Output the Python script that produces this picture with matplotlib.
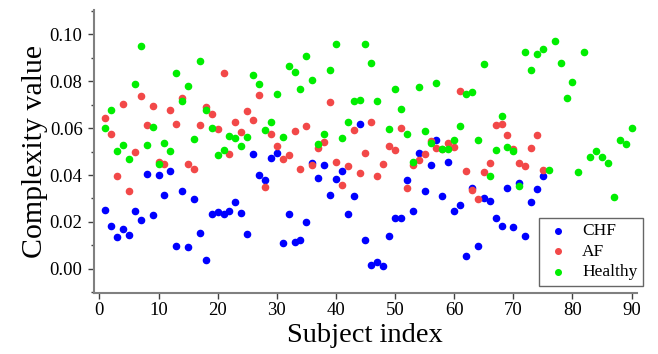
import numpy as np
import matplotlib
matplotlib.use("Agg")
import matplotlib.pyplot as plt
from matplotlib.ticker import MultipleLocator

plt.rcParams['font.family'] = ['Liberation Serif', 'DejaVu Serif']

chf = [0.0249, 0.0181, 0.0135, 0.0172, 0.0144, 0.0246, 0.0209, 0.0404, 0.0230, 0.0401,
       0.0316, 0.0417, 0.0097, 0.0331, 0.0092, 0.0297, 0.0152, 0.0036, 0.0232, 0.0243,
       0.0235, 0.0248, 0.0283, 0.0236, 0.0149, 0.0489, 0.0400, 0.0378, 0.0474, 0.0492,
       0.0112, 0.0232, 0.0115, 0.0121, 0.0201, 0.0450, 0.0387, 0.0442, 0.0314, 0.0383,
       0.0418, 0.0232, 0.0310, 0.0617, 0.0122, 0.0016, 0.0030, 0.0011, 0.0142, 0.0216,
       0.0216, 0.0377, 0.0248, 0.0492, 0.0331, 0.0442, 0.0548, 0.0310, 0.0454, 0.0246,
       0.0273, 0.0054, 0.0346, 0.0098, 0.0300, 0.0290, 0.0215, 0.0182, 0.0346, 0.0179,
       0.0364, 0.0142, 0.0284, 0.0341, 0.0395]

af = [0.0643, 0.0575, 0.0398, 0.0704, 0.0331, 0.0499, 0.0737, 0.0613, 0.0696, 0.0454,
      0.0445, 0.0677, 0.0616, 0.0727, 0.0445, 0.0427, 0.0615, 0.0691, 0.0660, 0.0595,
      0.0835, 0.0491, 0.0627, 0.0582, 0.0674, 0.0633, 0.0740, 0.0349, 0.0575, 0.0522,
      0.0469, 0.0486, 0.0587, 0.0424, 0.0609, 0.0442, 0.0516, 0.0539, 0.0711, 0.0455,
      0.0356, 0.0437, 0.0590, 0.0407, 0.0495, 0.0626, 0.0395, 0.0445, 0.0522, 0.0505,
      0.0599, 0.0343, 0.0441, 0.0465, 0.0491, 0.0546, 0.0515, 0.0511, 0.0538, 0.0521,
      0.0757, 0.0417, 0.0337, 0.0299, 0.0413, 0.0452, 0.0615, 0.0619, 0.0570, 0.0509,
      0.0452, 0.0440, 0.0516, 0.0569, 0.0421]

healthy = [0.0599, 0.0677, 0.0502, 0.0528, 0.0468, 0.0787, 0.0949, 0.0528, 0.0607, 0.0448,
           0.0538, 0.0504, 0.0834, 0.0717, 0.0781, 0.0552, 0.0886, 0.0677, 0.0600, 0.0485,
           0.0508, 0.0568, 0.0559, 0.0526, 0.0563, 0.0828, 0.0789, 0.0593, 0.0626, 0.0747,
           0.0563, 0.0865, 0.0841, 0.0768, 0.0909, 0.0804, 0.0533, 0.0576, 0.0849, 0.0960,
           0.0556, 0.0626, 0.0714, 0.0721, 0.0960, 0.0876, 0.0714, np.nan, 0.0596, 0.0767,
           0.0681, 0.0573, 0.0457, 0.0777, 0.0587, 0.0536, 0.0791, 0.0511, 0.0511, 0.0550,
           0.0610, 0.0747, 0.0755, 0.0550, 0.0873, 0.0398, 0.0508, 0.0653, 0.0521, 0.0504,
           0.0353, 0.0926, 0.0849, 0.0917, 0.0937, 0.0422, 0.0973, 0.0879, 0.0730, 0.0798,
           0.0411, 0.0923, 0.0477, 0.0504, 0.0475, 0.0450, 0.0306, 0.0548, 0.0533, 0.0599]

x_chf = np.arange(1, len(chf) + 1)
x_af = np.arange(1, len(af) + 1)
x_healthy = np.arange(1, len(healthy) + 1)

fig = plt.figure(figsize=(6.58, 3.54), dpi=100)
ax = fig.add_axes([0.1424, 0.1737, 0.8256, 0.7981])

ax.scatter(x_chf, chf, s=20, color='#0000ff', label='CHF', zorder=2)
ax.scatter(x_af, af, s=20, color='#f24848', label='AF', zorder=3)
ax.scatter(x_healthy, healthy, s=20, color='#00ee00', label='Healthy', zorder=4)

ax.set_xlim(-0.96, 90.9)
ax.set_ylim(-0.0101, 0.1104)
ax.xaxis.set_major_locator(MultipleLocator(10))
ax.yaxis.set_major_locator(MultipleLocator(0.02))
ax.yaxis.set_minor_locator(MultipleLocator(0.01))
ax.yaxis.set_major_formatter(lambda v, p: f"{v:.2f}")

for side in ['top', 'right']:
    ax.spines[side].set_visible(False)
for side in ['left', 'bottom']:
    ax.spines[side].set_color('#808080')
    ax.spines[side].set_linewidth(1.5)
ax.tick_params(which='major', length=4, width=1, color='#404040', labelsize=13.5, pad=3)
ax.tick_params(axis='y', which='major', pad=4)
ax.tick_params(which='minor', length=2.5, width=1, color='#404040')

ax.set_xlabel('Subject index', fontsize=20.5, labelpad=3)
ax.set_ylabel('Complexity value', fontsize=21.5, labelpad=1)

leg = ax.legend(loc='lower right', bbox_to_anchor=(0.977, 0.193), bbox_transform=fig.transFigure,
                borderaxespad=0, fontsize=12.5, frameon=True, fancybox=False, markerscale=0.9,
                handlelength=1.6, handletextpad=0.6, labelspacing=0.25, borderpad=0.3)
leg.get_frame().set_edgecolor('#404040')
leg.get_frame().set_linewidth(1.0)

fig.savefig('out.png', dpi=100)
